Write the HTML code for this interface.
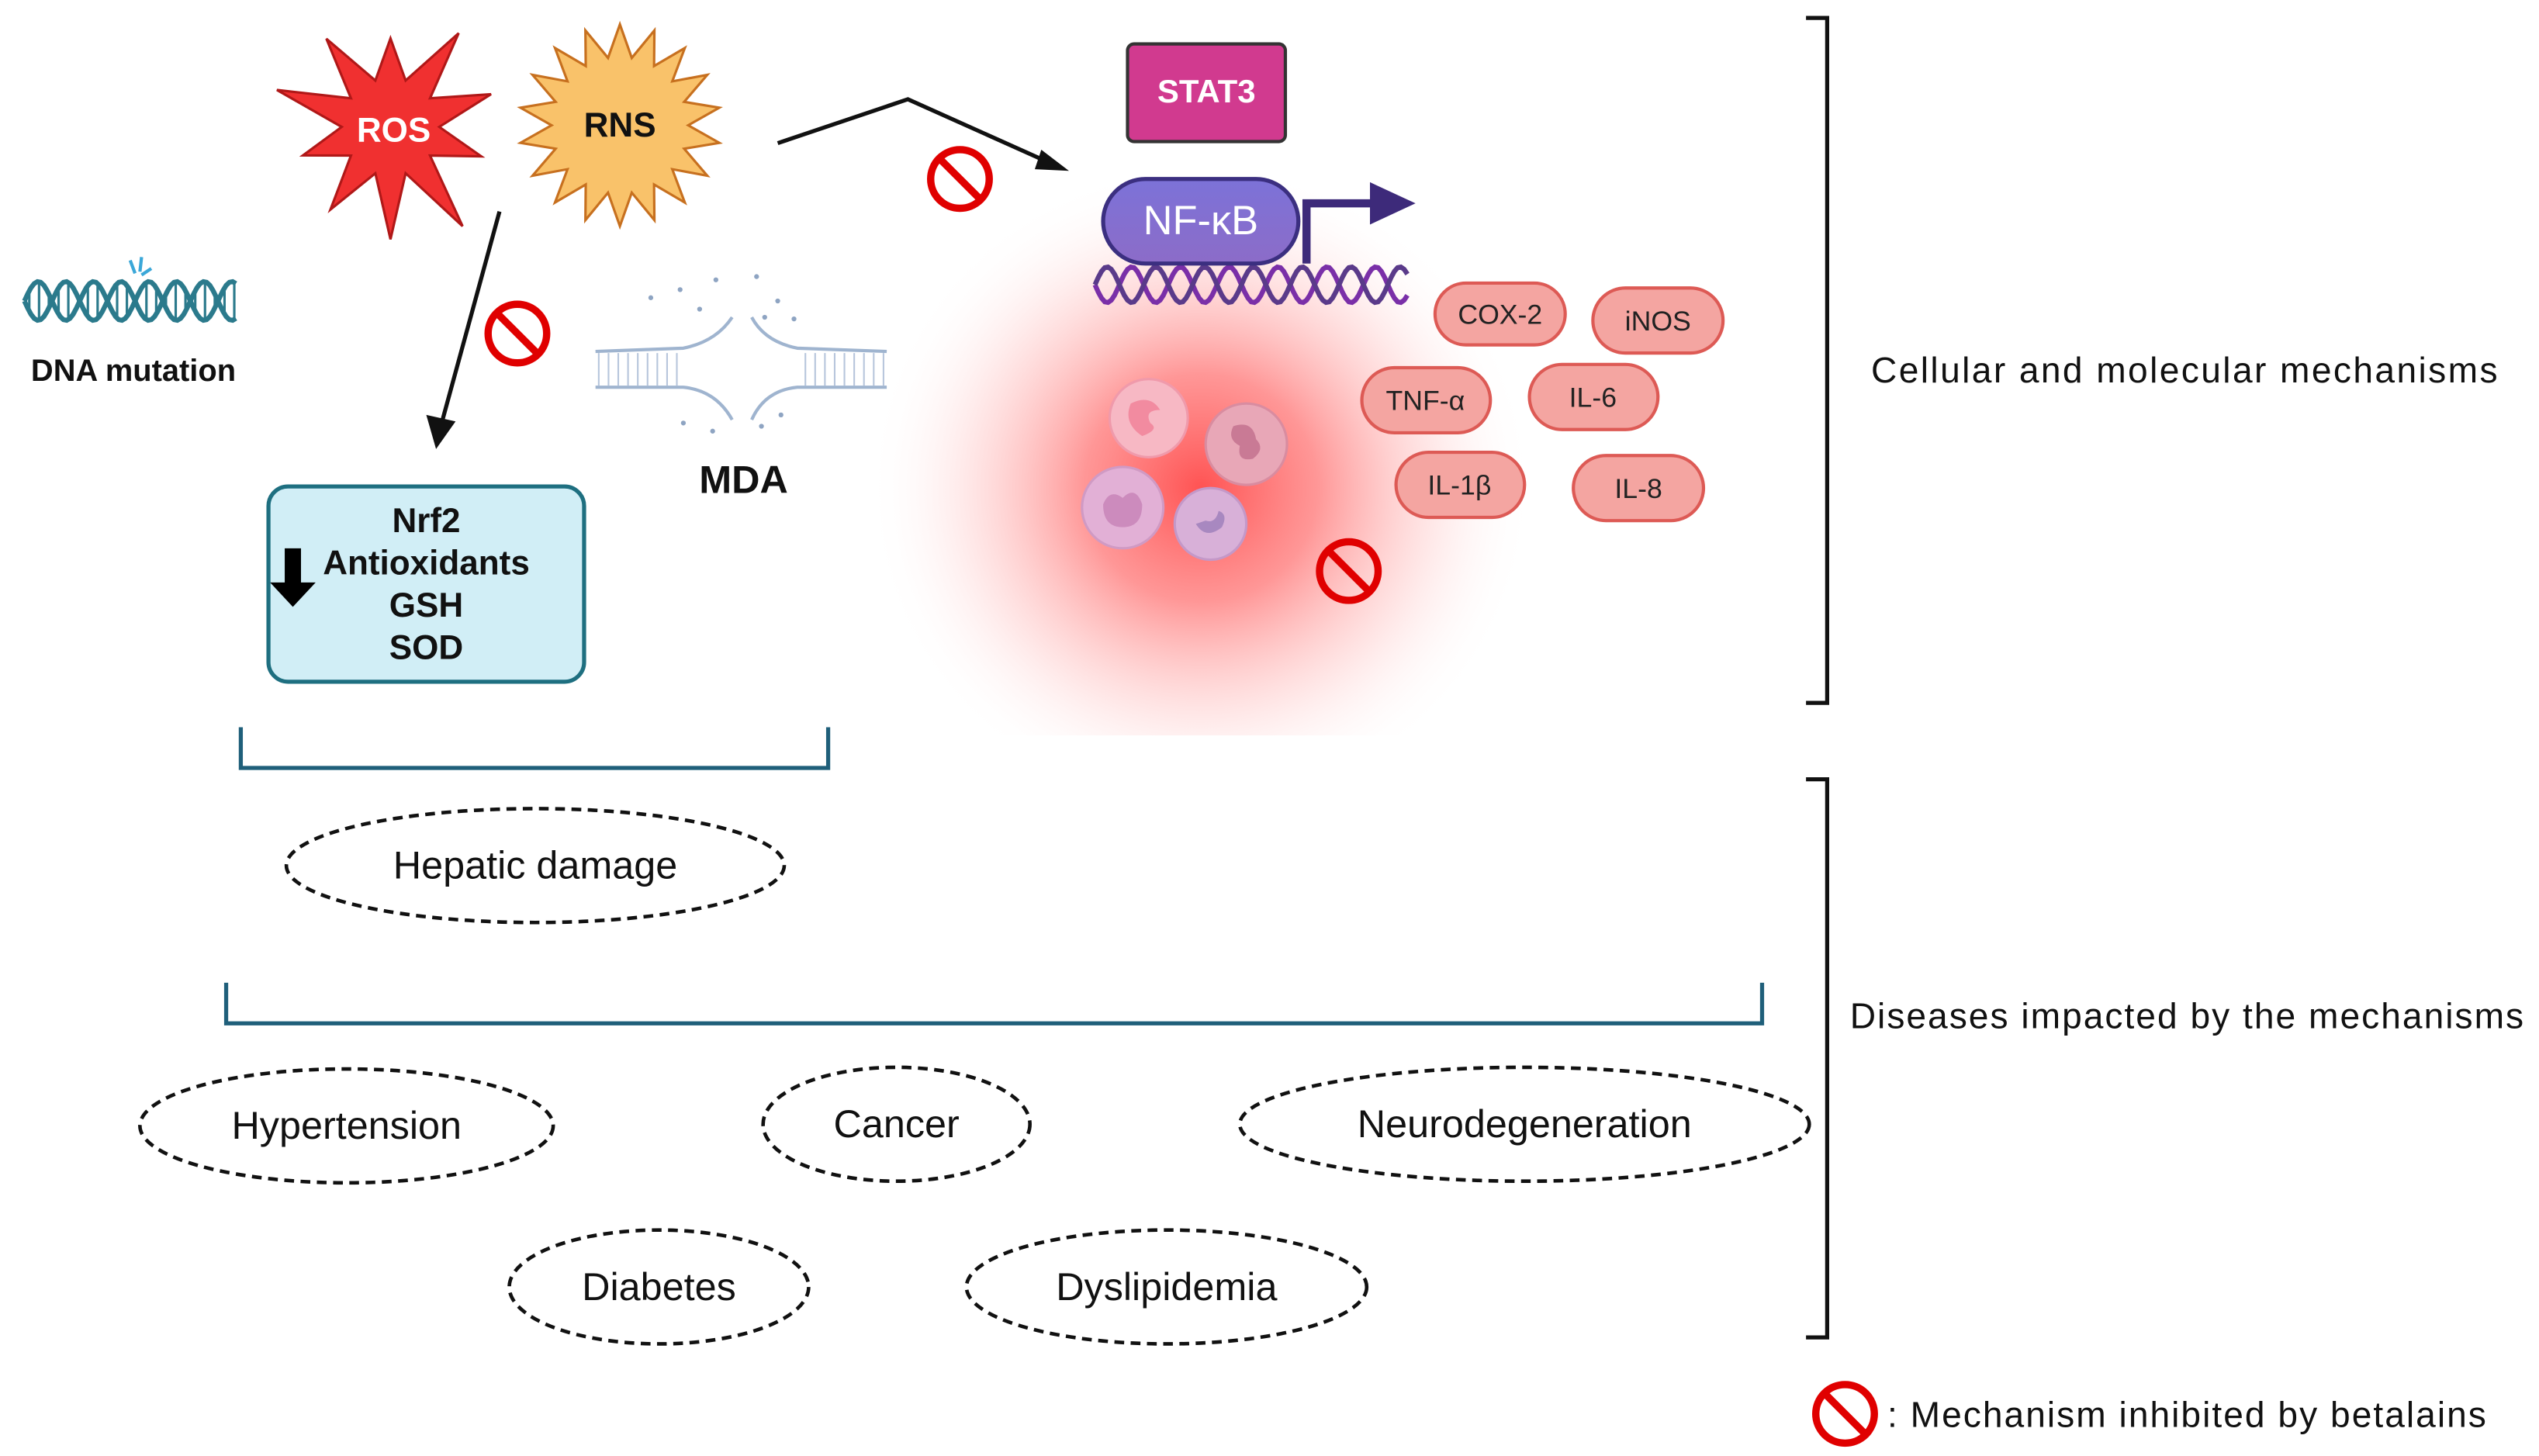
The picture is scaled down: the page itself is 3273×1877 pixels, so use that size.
<!DOCTYPE html>
<html><head><meta charset="utf-8"><style>
html,body{margin:0;padding:0;background:#fff;}
svg{display:block;}
text{font-family:"Liberation Sans",sans-serif;}
</style></head><body>
<svg id="s" width="3273" height="1877" viewBox="0 0 1560.5 894.9" preserveAspectRatio="none" xmlns="http://www.w3.org/2000/svg">
<defs>
<radialGradient id="glow" cx="0.5" cy="0.5" r="0.5">
<stop offset="0" stop-color="#ff4a4a" stop-opacity="0.95"/>
<stop offset="0.35" stop-color="#ff6a6a" stop-opacity="0.7"/>
<stop offset="0.7" stop-color="#ffb0b0" stop-opacity="0.3"/>
<stop offset="1" stop-color="#ffffff" stop-opacity="0"/>
</radialGradient>
<clipPath id="gc"><rect x="540" y="110" width="450" height="342"/></clipPath>
<linearGradient id="nf" x1="0" y1="0" x2="0" y2="1"><stop offset="0" stop-color="#7c72d8"/><stop offset="1" stop-color="#8c6cc8"/></linearGradient>
</defs>

<g clip-path="url(#gc)"><ellipse cx="738" cy="300" rx="205" ry="200" fill="url(#glow)"/></g>

<polygon id="ros" fill="#f03030" stroke="#b01818" stroke-width="1.5"/>
<polygon id="rns" fill="#f9c26a" stroke="#c7701f" stroke-width="1.5"/>
<text x="242" y="87" font-size="21" font-weight="bold" fill="#fff" text-anchor="middle">ROS</text>
<text x="381" y="84" font-size="21" font-weight="bold" fill="#111" text-anchor="middle">RNS</text>

<polyline points="478,88 558,61 645,100" fill="none" stroke="#111" stroke-width="2.5"/>
<polygon points="657,105 640,92 636,104" fill="#111"/>
<line x1="307" y1="130" x2="272" y2="258" stroke="#111" stroke-width="2.5"/>
<polygon points="268,276 262,255 280,259" fill="#111"/>

<g id="dna" fill="none" stroke="#2b7a8c" stroke-width="3"></g>
<path d="M80,160 l3,8 M87,158 l-1,9 M93,165 l-6,4" stroke="#3aa7d8" stroke-width="2"/>
<text x="82" y="234" font-size="19" font-weight="bold" fill="#111" text-anchor="middle">DNA mutation</text>

<g fill="none" stroke="#9fb4cf" stroke-width="2">
<path d="M366,216 L420,214 Q440,210 450,195"/>
<path d="M366,238 L420,238 Q440,240 450,258"/>
<path d="M545,216 L490,214 Q470,210 462,195"/>
<path d="M545,238 L490,238 Q470,240 462,258"/>
</g>
<g stroke="#b7c6dc" stroke-width="1">
<path d="M368,217 v20 M374,217 v20 M380,217 v20 M386,217 v20 M392,217 v20 M398,217 v20 M404,217 v20 M410,217 v20 M416,217 v20 M495,217 v20 M501,217 v20 M507,217 v20 M513,217 v20 M519,217 v20 M525,217 v20 M531,217 v20 M537,217 v20 M543,217 v20"/>
</g>
<g fill="#8ea4c2">
<circle cx="400" cy="183" r="1.5"/><circle cx="418" cy="178" r="1.5"/><circle cx="430" cy="190" r="1.5"/><circle cx="465" cy="170" r="1.5"/><circle cx="478" cy="185" r="1.5"/><circle cx="488" cy="196" r="1.5"/><circle cx="470" cy="195" r="1.5"/><circle cx="440" cy="172" r="1.5"/><circle cx="438" cy="265" r="1.5"/><circle cx="468" cy="262" r="1.5"/><circle cx="480" cy="255" r="1.5"/><circle cx="420" cy="260" r="1.5"/>
</g>
<text x="457" y="303" font-size="24" font-weight="bold" fill="#111" text-anchor="middle">MDA</text>

<rect x="165" y="299" width="194" height="120" rx="12" fill="#d1eef6" stroke="#1e6f80" stroke-width="2.5"/>
<g font-size="21" font-weight="bold" fill="#111" text-anchor="middle">
<text x="262" y="327">Nrf2</text><text x="262" y="353">Antioxidants</text><text x="262" y="379">GSH</text><text x="262" y="405">SOD</text>
</g>
<polygon points="175,337 185,337 185,358 194,358 180,373 166,358 175,358" fill="#000"/>

<rect x="693" y="27" width="97" height="60" rx="4" fill="#d13a8f" stroke="#333" stroke-width="2"/>
<text x="741.5" y="63" font-size="20" font-weight="bold" fill="#fff" text-anchor="middle">STAT3</text>

<g id="dna2" fill="none" stroke-width="3"></g>
<rect x="678" y="110" width="120" height="52" rx="26" fill="url(#nf)" stroke="#3b2f80" stroke-width="2.5"/>
<text x="738" y="144" font-size="25" fill="#fff" text-anchor="middle">NF-κB</text>
<polyline points="803,162 803,125 845,125" fill="none" stroke="#3d2a7a" stroke-width="5"/>
<polygon points="842,112 870,125 842,138" fill="#3d2a7a"/>

<circle cx="706" cy="257" r="24" fill="#f7b8c4" stroke="#f09aab" stroke-width="1.5"/>
<path d="M695,248 q12,-6 18,4 q-10,0 -6,8 q6,4 -5,8 q-12,-8 -7,-20z" fill="#f28ba0"/>
<circle cx="766" cy="273" r="25" fill="#e8a7b7" stroke="#d98ca0" stroke-width="1.5"/>
<path d="M758,262 q12,-4 14,8 q6,6 -2,12 q-10,2 -8,-8 q-8,-4 -4,-12z" fill="#c97a95"/>
<circle cx="690" cy="312" r="25" fill="#e2b0d6" stroke="#d09ac4" stroke-width="1.5"/>
<path d="M678,310 q4,-10 12,-4 q8,-8 12,4 q0,14 -12,14 q-12,0 -12,-14z" fill="#cc8bbd"/>
<circle cx="744" cy="322" r="22" fill="#d8b0d8" stroke="#c498c8" stroke-width="1.5"/>
<path d="M735,322 q6,10 16,2 q4,-8 -2,-10 q-2,8 -8,6z" fill="#a888c0"/>

<g fill="#f4a5a1" stroke="#dd5a55" stroke-width="2">
<rect x="882" y="174" width="80" height="38" rx="19"/>
<rect x="979" y="177" width="80" height="40" rx="20"/>
<rect x="837" y="226" width="79" height="40" rx="20"/>
<rect x="940" y="224" width="79" height="40" rx="20"/>
<rect x="858" y="278" width="79" height="40" rx="20"/>
<rect x="967" y="280" width="80" height="40" rx="20"/>
</g>
<g font-size="17" fill="#222" text-anchor="middle">
<text x="922" y="199">COX-2</text><text x="1019" y="203">iNOS</text><text x="876" y="252">TNF-α</text><text x="979" y="250">IL-6</text><text x="897" y="304">IL-1β</text><text x="1007" y="306">IL-8</text>
</g>

<g fill="none" stroke="#e00000" stroke-width="4.5">
<circle cx="318" cy="205" r="18"/><line x1="306" y1="193" x2="330" y2="217"/>
<circle cx="590" cy="110" r="18"/><line x1="578" y1="98" x2="602" y2="122"/>
<circle cx="829" cy="351" r="18"/><line x1="817" y1="339" x2="841" y2="363"/>
<circle cx="1134" cy="869" r="18"/><line x1="1122" y1="857" x2="1146" y2="881"/>
</g>

<polyline points="148,447 148,472 509,472 509,447" fill="none" stroke="#1f5f7a" stroke-width="2.5"/>
<polyline points="139,604 139,629 1083,629 1083,604" fill="none" stroke="#1f5f7a" stroke-width="2.5"/>
<polyline points="1110,11 1123,11 1123,432 1110,432" fill="none" stroke="#111" stroke-width="2.5"/>
<polyline points="1110,479 1123,479 1123,822 1110,822" fill="none" stroke="#111" stroke-width="2.5"/>

<g fill="none" stroke="#111" stroke-width="2.2" stroke-dasharray="6,4">
<ellipse cx="329" cy="532" rx="153" ry="35"/>
<ellipse cx="213" cy="692" rx="127" ry="35"/>
<ellipse cx="551" cy="691" rx="82" ry="35"/>
<ellipse cx="937" cy="691" rx="175" ry="35"/>
<ellipse cx="405" cy="791" rx="92" ry="35"/>
<ellipse cx="717" cy="791" rx="123" ry="35"/>
</g>
<g font-size="24" fill="#111" text-anchor="middle">
<text x="329" y="540">Hepatic damage</text>
<text x="213" y="700">Hypertension</text>
<text x="551" y="699">Cancer</text>
<text x="937" y="699">Neurodegeneration</text>
<text x="405" y="799">Diabetes</text>
<text x="717" y="799">Dyslipidemia</text>
</g>
<g font-size="22" fill="#111">
<text x="1150" y="235" textLength="385" lengthAdjust="spacing">Cellular and molecular mechanisms</text>
<text x="1137" y="632" textLength="414" lengthAdjust="spacing">Diseases impacted by the mechanisms</text>
<text x="1160" y="877" textLength="368" lengthAdjust="spacing">: Mechanism inhibited by betalains</text>
</g>
</svg>
<script>
function star(id,cx,cy,ro,ri,n,rot,jit){var p=[];for(var i=0;i<2*n;i++){var a=rot+Math.PI*i/n;var r=(i%2?ri:ro*(1+(jit?((i*37%11)/11-0.5)*jit:0)));p.push((cx+r*Math.cos(a)).toFixed(1)+","+(cy+r*Math.sin(a)).toFixed(1));}document.getElementById(id).setAttribute("points",p.join(" "));}
star("ros",240,78,66,30,10,-Math.PI/2,0.35);
star("rns",381,77,62,42,18,-Math.PI/2,0);
function helix(g,x0,x1,yc,amp,per,cols,sw){var el=document.getElementById(g);for(var k=0;k<2;k++){var d="";for(var x=x0;x<=x1;x+=2){var y=yc+amp*Math.sin((x-x0)/per*2*Math.PI+k*Math.PI);d+=(x==x0?"M":"L")+x+","+y.toFixed(1);}var p=document.createElementNS("http://www.w3.org/2000/svg","path");p.setAttribute("d",d);p.setAttribute("stroke",cols[k]);p.setAttribute("stroke-width",sw);el.appendChild(p);}}
helix("dna",15,145,185,12,34,["#2b7a8c","#2b7a8c"],3);
var g=document.getElementById("dna");for(var x=18;x<145;x+=6){var l=document.createElementNS("http://www.w3.org/2000/svg","line");var a=12*Math.abs(Math.sin((x-15)/34*2*Math.PI));l.setAttribute("x1",x);l.setAttribute("x2",x);l.setAttribute("y1",185-a);l.setAttribute("y2",185+a);l.setAttribute("stroke-width","1.5");g.appendChild(l);}
helix("dna2",673,865,175,11,30,["#7a2fa8","#5a3a8a"],3);
</script>
</body></html>
